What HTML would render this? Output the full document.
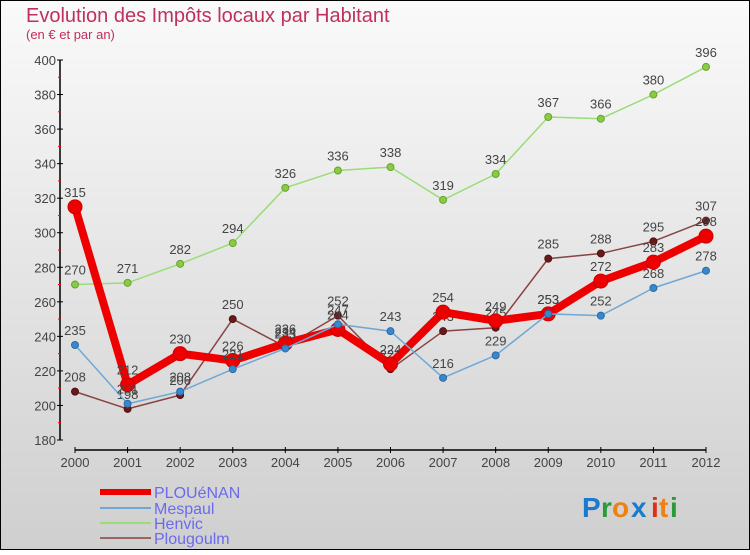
<!DOCTYPE html>
<html><head><meta charset="utf-8"><style>
body{margin:0;padding:0}
svg text{font-family:"Liberation Sans",sans-serif}
</style></head><body>
<svg id="c" width="750" height="550" xmlns="http://www.w3.org/2000/svg">
<defs><linearGradient id="bg" x1="0" y1="0" x2="0" y2="1"><stop offset="0" stop-color="#fafafa"/><stop offset="1" stop-color="#cfcfcf"/></linearGradient></defs>
<rect x="0.5" y="0.5" width="749" height="549" fill="url(#bg)" stroke="#000"/>
<text x="26" y="22" font-size="20" fill="#c0305a">Evolution des Impôts locaux par Habitant</text>
<text x="26" y="39" font-size="13" fill="#c0305a">(en € et par an)</text>
<g id="axes"></g><g id="series"></g>
<g>
<line x1="100" y1="492" x2="151" y2="492" stroke="#ee0000" stroke-width="6"/>
<text x="154" y="498" font-size="16" fill="#6a6af0">PLOUéNAN</text>
<line x1="100" y1="508" x2="151" y2="508" stroke="#6fa8d6" stroke-width="2"/>
<text x="154" y="514" font-size="16" fill="#6a6af0">Mespaul</text>
<line x1="100" y1="523" x2="151" y2="523" stroke="#99dd77" stroke-width="2"/>
<text x="154" y="529" font-size="16" fill="#6a6af0">Henvic</text>
<line x1="100" y1="538" x2="151" y2="538" stroke="#996666" stroke-width="2"/>
<text x="154" y="544" font-size="16" fill="#6a6af0">Plougoulm</text>
</g>
<g font-size="28" font-weight="bold">
<text x="582" y="517" fill="#1a7ad0">P</text><text x="601" y="517" fill="#2a9a3a">r</text><text x="612" y="517" fill="#f08010">o</text><text x="631" y="517" fill="#1a7ad0">x</text><text x="651" y="517" fill="#e03010">i</text><text x="659" y="517" fill="#f08010">t</text><text x="670" y="517" fill="#2a9a3a">i</text>
</g>
</svg>
<script>
const years=[2000,2001,2002,2003,2004,2005,2006,2007,2008,2009,2010,2011,2012];
const plouenan=[315,212,230,226,236,244,224,254,249,253,272,283,298];
const mespaul=[235,201,208,221,233,247,243,216,229,253,252,268,278];
const henvic=[270,271,282,294,326,336,338,319,334,367,366,380,396];
const plougoulm=[208,198,206,250,234,252,221,243,245,285,288,295,307];
const yTicks=[180,200,220,240,260,280,300,320,340,360,380,400];
const NS="http://www.w3.org/2000/svg";
function X(i){return 75+i*(706-75)/(years.length-1);}
function Y(v){return 440-(v-180)*(380/220);}
function mk(tag,attrs,parent,text){const e=document.createElementNS(NS,tag);for(const k in attrs)e.setAttribute(k,attrs[k]);if(text!==undefined)e.textContent=text;parent.appendChild(e);return e;}
const ax=document.getElementById('axes');
let yl=mk('line',{x1:60,y1:Y(400),x2:60,y2:Y(180),stroke:'#000','stroke-width':1.5},ax);


yTicks.forEach(v=>{
 mk('line',{x1:57,y1:Y(v),x2:63,y2:Y(v),stroke:'#000'},ax);
 if(v<400) mk('line',{x1:58,y1:Y(v+10),x2:61,y2:Y(v+10),stroke:'#f00'},ax);
 const t=mk('text',{x:56,y:Y(v)+5,'font-size':13,fill:'#444','text-anchor':'end'},ax,v);
 
 
});
let xl=mk('line',{x1:X(0),y1:450,x2:X(12),y2:450,stroke:'#000','stroke-width':1.5},ax);


years.forEach((y,i)=>{
 mk('line',{x1:X(i),y1:447,x2:X(i),y2:453,stroke:'#000'},ax);
 const t=mk('text',{x:X(i),y:467,'font-size':13,fill:'#444','text-anchor':'middle'},ax,y);
 
 
});
const sg=document.getElementById('series');
function series(name,vals,color,w,r,dot,stroke){
 const g=mk('g',{},sg);
 
 
 const pl=mk('polyline',{points:vals.map((v,i)=>X(i)+','+Y(v)).join(' '),fill:'none',stroke:color,'stroke-width':w,'stroke-linejoin':'round'},g);
 
 
 vals.forEach((v,i)=>{
  const c=mk('circle',{cx:X(i),cy:Y(v),r:r,fill:dot,stroke:stroke,'stroke-width':1},g);
  
  
  const t=mk('text',{x:X(i),y:Y(v)-10,'font-size':13,fill:'#444','text-anchor':'middle'},g,v);
  
  
 });
}
series('henvic',henvic,'#99dd77',1.5,3.5,'#88cc44','#6aa030');
series('plougoulm',plougoulm,'#884444',1.5,3.5,'#661a1a','#551010');
series('plouenan',plouenan,'#ee0000',8,7,'#ee0000','#cc0000');
series('mespaul',mespaul,'#6fa8d6',1.5,3.5,'#3a88cc','#2a6aaa');
</script>
</body></html>
